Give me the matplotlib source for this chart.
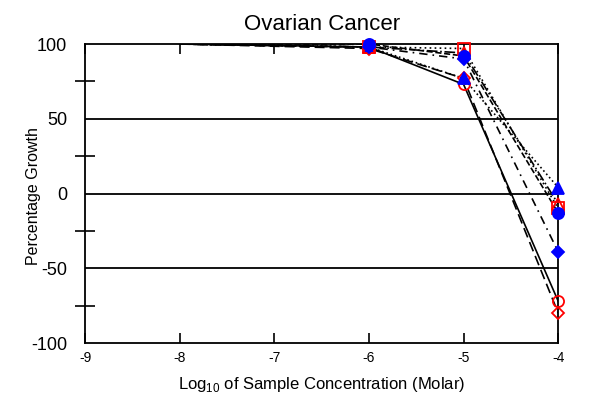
import matplotlib
matplotlib.use('Agg')
import matplotlib.pyplot as plt

plt.rcParams['font.family'] = ['Liberation Sans', 'DejaVu Sans']
plt.rcParams['mathtext.fontset'] = 'custom'
plt.rcParams['mathtext.rm'] = 'Liberation Sans'

log_conc = [-8, -6, -5, -4]

# percentage growth per cell line (first point at -8 has no marker)
red_circle = [100, 98, 73, -72]
red_diamond = [100, 97, 77, -80]
blue_triangle = [100, 98, 77, 4]
red_square = [100, 98, 97, -10]
red_triangle = [100, 98, 94, -7]
blue_diamond = [100, 98, 90, -39]
blue_circle = [100, 100, 92, -13]

series = [
    (red_circle, 'o', 'red', False, '-'),
    (red_diamond, 'D', 'red', False, (0, (6, 3))),
    (blue_triangle, '^', 'blue', True, ':'),
    (red_square, 's', 'red', False, (0, (1, 2))),
    (red_triangle, '^', 'red', False, '-.'),
    (blue_diamond, 'D', 'blue', True, (0, (5, 3, 1, 3))),
    (blue_circle, 'o', 'blue', True, '--'),
]

xticks = [-9, -8, -7, -6, -5, -4]
yticks = [-100, -50, 0, 50, 100]

fig = plt.figure(figsize=(6.09, 3.93), dpi=100)
ax = fig.add_axes([0.1396, 0.1272, 0.777, 0.7608])

for y in [-50, 0, 50]:
    ax.axhline(y, color='black', lw=1.3, zorder=1)

for vals, mk, col, filled, ls in series:
    ms = 6 if mk == 'D' else 8
    ax.plot(log_conc, vals, color='black', lw=1.2, ls=ls, zorder=2)
    ax.plot(log_conc[1:], vals[1:], ls='none', marker=mk, ms=ms,
            mfc=col if filled else 'none', mec=col, mew=1.3, zorder=3,
            clip_on=False)

ax.set_xlim(-9, -4)
ax.set_ylim(-100, 100)
ax.set_xticks(xticks)
ax.set_xticklabels([str(t) for t in xticks], fontsize=10)
ax.set_yticks(yticks)
ax.set_yticklabels([str(t) for t in yticks], fontsize=13)
ax.set_yticks([-75, -25, 25, 75], minor=True)
ax.tick_params(axis='x', direction='in', length=7, width=1.2, pad=6, top=True)
ax.tick_params(axis='y', which='major', length=0, pad=13)
ax.tick_params(axis='y', which='minor', direction='inout', length=15, width=1.2)
for s in ax.spines.values():
    s.set_linewidth(1.3)

ax.set_title('Ovarian Cancer', fontsize=16, pad=10)
ax.set_ylabel('Percentage Growth', fontsize=11.5)
ax.yaxis.set_label_coords(-0.093, 0.49)
ax.set_xlabel('Log$_{\\mathregular{10}}$ of Sample Concentration (Molar)', fontsize=12, labelpad=7)

fig.savefig('out.png', dpi=100)
